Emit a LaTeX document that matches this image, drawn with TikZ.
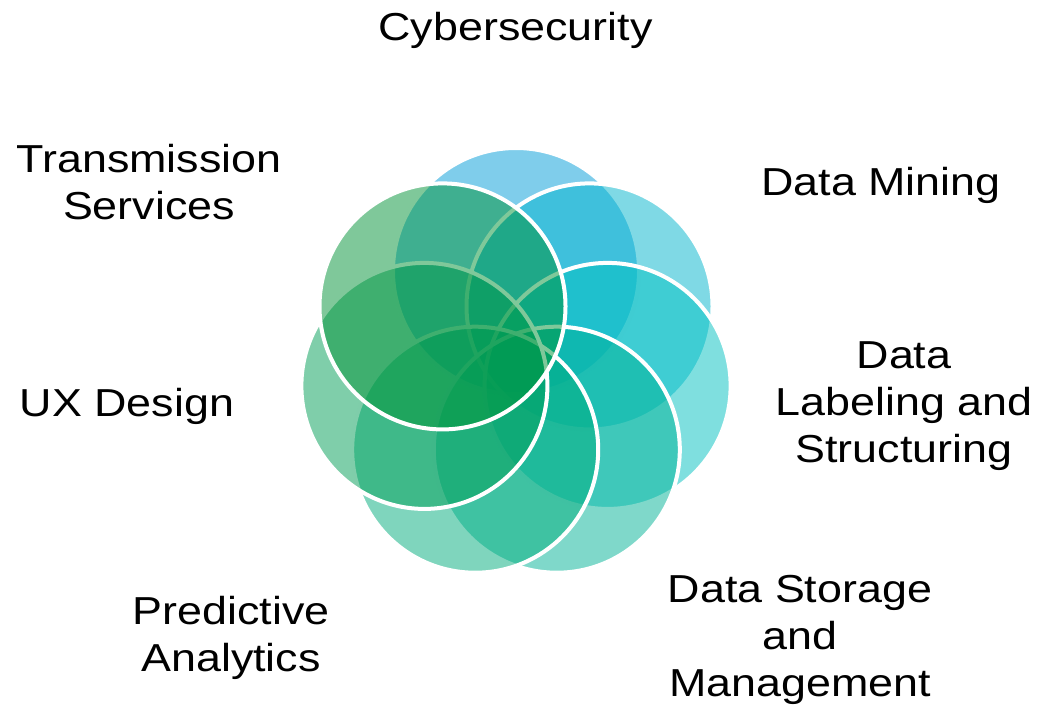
\documentclass[tikz,border=0pt]{standalone}
\usepackage{fontspec}
\setmainfont{Liberation Sans}[FakeStretch=1.15]
\definecolor{c1}{RGB}{0,155,216}
\definecolor{c2}{RGB}{0,180,204}
\definecolor{c3}{RGB}{0,192,192}
\definecolor{c4}{RGB}{0,178,150}
\definecolor{c5}{RGB}{0,172,124}
\definecolor{c6}{RGB}{0,157,86}
\definecolor{c7}{RGB}{0,146,54}
\begin{document}
\begin{tikzpicture}[x=1pt,y=-1pt,
  bubble/.style={circle, minimum size=246pt, inner sep=0pt, draw=white,
    line width=4pt, fill opacity=0.5, draw opacity=1},
  lbl/.style={font=\fontsize{39}{47}\selectfont, align=center, inner sep=0pt, text=black, anchor=base}]
\useasboundingbox (0,0) rectangle (1040,710);
\node[bubble, fill=c1] (cyber) at (516,271) {};
\node[bubble, fill=c2] (mining) at (589.5,306.4) {};
\node[bubble, fill=c3] (labeling) at (607.6,385.9) {};
\node[bubble, fill=c4] (storage) at (556.8,449.7) {};
\node[bubble, fill=c5] (predictive) at (475.2,449.7) {};
\node[bubble, fill=c6] (ux) at (424.4,385.9) {};
\node[bubble, fill=c7] (transmission) at (442.5,306.4) {};
\node[lbl] (tcyber) at (515.5,40) {Cybersecurity};
\node[lbl] (tmining) at (881,195) {Data Mining};
\node[lbl] (tlabeling) at (904,462) {Data\\Labeling and\\Structuring};
\node[lbl] (tstorage) at (800,696) {Data Storage\\and\\Management};
\node[lbl] (tpredictive) at (231,671) {Predictive\\Analytics};
\node[lbl] (tux) at (127,416) {UX Design};
\node[lbl] (ttransmission) at (149,219) {Transmission\\Services};
\end{tikzpicture}
\end{document}
